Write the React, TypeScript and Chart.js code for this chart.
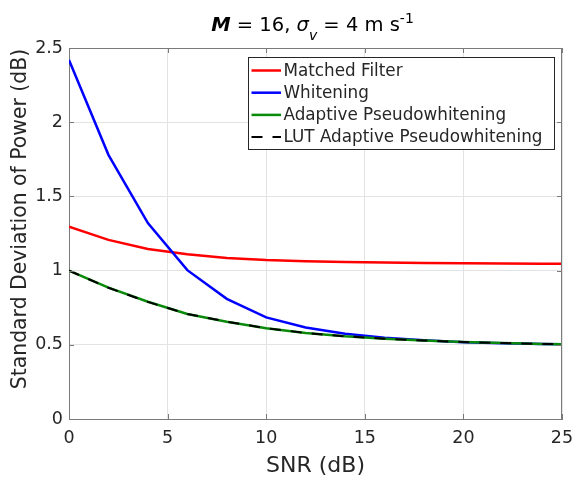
import React, { useEffect, useRef } from "react";
import { Chart, registerables } from "chart.js";

Chart.register(...registerables);

// ---- data ----
const snrDb = [0, 2, 4, 6, 8, 10, 12, 14, 16, 18, 20, 22, 24, 25];
const matchedFilter = [1.296, 1.207, 1.145, 1.11, 1.085, 1.071, 1.063, 1.058, 1.054, 1.051, 1.049, 1.048, 1.047, 1.047];
const whitening = [2.42, 1.78, 1.32, 1.003, 0.81, 0.685, 0.617, 0.575, 0.548, 0.53, 0.518, 0.511, 0.506, 0.504];
const adaptivePW = [1.0, 0.885, 0.79, 0.708, 0.656, 0.612, 0.58, 0.557, 0.541, 0.529, 0.519, 0.512, 0.506, 0.504];
const lutAdaptivePW = [1.0, 0.884, 0.789, 0.708, 0.656, 0.612, 0.58, 0.557, 0.541, 0.529, 0.519, 0.512, 0.506, 0.504];

const seriesLabels = ["Matched Filter", "Whitening", "Adaptive Pseudowhitening", "LUT Adaptive Pseudowhitening"];
const xTickValues = [0, 5, 10, 15, 20, 25];
const yTickValues = [0, 0.5, 1, 1.5, 2, 2.5];
const xTitle = "SNR (dB)";
const yTitle = "Standard Deviation of Power (dB)";

// ---- style ----
const F = "'DejaVu Sans', sans-serif";
const TEXT = "#262626";
const AXIS = "#7a7a7a";
const GRID = "#e3e3e3";
const colors = ["#ff0000", "#0000ff", "#0a8a0a", "#000000"];
const widths = [2.5, 2.5, 2.5, 2];
const dashes: number[][] = [[], [], [], [11, 10]];

const toPts = (ys: number[]) => snrDb.map((x, i) => ({ x, y: ys[i] }));

const framePlugin = {
  id: "frameTicks",
  afterDatasetsDraw(chart: any) {
    const { ctx, chartArea: a, scales } = chart;
    ctx.save();
    ctx.strokeStyle = AXIS;
    ctx.lineWidth = 1;
    ctx.beginPath();
    ctx.moveTo(a.left, a.top + 0.5);
    ctx.lineTo(a.right, a.top + 0.5);
    ctx.moveTo(a.right - 0.5, a.top);
    ctx.lineTo(a.right - 0.5, a.bottom);
    xTickValues.forEach((v) => {
      const x = Math.round(scales.x.getPixelForValue(v)) + 0.5;
      ctx.moveTo(x, a.bottom);
      ctx.lineTo(x, a.bottom - 5);
      ctx.moveTo(x, a.top);
      ctx.lineTo(x, a.top + 5);
    });
    yTickValues.forEach((v) => {
      const y = Math.round(scales.y.getPixelForValue(v)) + 0.5;
      ctx.moveTo(a.left, y);
      ctx.lineTo(a.left + 5, y);
      ctx.moveTo(a.right, y);
      ctx.lineTo(a.right - 5, y);
    });
    ctx.stroke();
    ctx.restore();
  },
};

const legendPlugin = {
  id: "boxLegend",
  afterDatasetsDraw(chart: any) {
    const { ctx, chartArea: a } = chart;
    const bw = 306;
    const bh = 92;
    const bx = a.right - 8 - bw;
    const by = a.top + 9;
    ctx.save();
    ctx.fillStyle = "#ffffff";
    ctx.fillRect(bx, by, bw, bh);
    ctx.strokeStyle = "#262626";
    ctx.lineWidth = 1;
    ctx.strokeRect(Math.round(bx) + 0.5, Math.round(by) + 0.5, bw, bh);
    ctx.font = `16.8px ${F}`;
    ctx.textBaseline = "middle";
    ctx.fillStyle = TEXT;
    seriesLabels.forEach((lab, i) => {
      const y = by + 13.5 + i * 22.2;
      ctx.save();
      ctx.strokeStyle = colors[i];
      ctx.lineWidth = widths[i];
      ctx.setLineDash(dashes[i]);
      ctx.beginPath();
      ctx.moveTo(bx + 3.5, y);
      ctx.lineTo(bx + 33, y);
      ctx.stroke();
      ctx.restore();
      ctx.fillText(lab, bx + 35.5, y + 1);
    });
    ctx.restore();
  },
};

const titlePlugin = {
  id: "mixedTitles",
  afterDraw(chart: any) {
    const { ctx, chartArea: a } = chart;
    ctx.save();
    ctx.fillStyle = "#000000";
    ctx.textBaseline = "alphabetic";
    const segs = [
      { t: "M", font: `italic bold 19.5px ${F}`, dy: 0 },
      { t: " = 16, ", font: `19.5px ${F}`, dy: 0 },
      { t: "σ", font: `italic 19.5px ${F}`, dy: 0 },
      { t: "v", font: `italic 14px ${F}`, dy: 9 },
      { t: " = 4 m s", font: `19.5px ${F}`, dy: 0 },
      { t: "-1", font: `14px ${F}`, dy: -8.5 },
    ];
    let total = 0;
    const ws = segs.map((s) => {
      ctx.font = s.font;
      const w = ctx.measureText(s.t).width;
      total += w;
      return w;
    });
    let x = (a.left + a.right) / 2 - 3 - total / 2;
    const base = 31;
    segs.forEach((s, i) => {
      ctx.font = s.font;
      ctx.fillText(s.t, x, base + s.dy);
      x += ws[i];
    });
    // y-axis title
    ctx.fillStyle = TEXT;
    ctx.font = `20.4px ${F}`;
    ctx.textAlign = "center";
    ctx.textBaseline = "middle";
    ctx.translate(20.5, 219);
    ctx.rotate(-Math.PI / 2);
    ctx.fillText(yTitle, 0, 0);
    ctx.restore();
  },
};

export default function App() {
  const ref = useRef<HTMLCanvasElement | null>(null);
  useEffect(() => {
    document.body.style.margin = "0";
    const canvas = ref.current;
    if (!canvas) return;
    const ds = [matchedFilter, whitening, adaptivePW, lutAdaptivePW].map((ys, i) => ({
      label: seriesLabels[i],
      data: toPts(ys),
      borderColor: colors[i],
      backgroundColor: colors[i],
      borderWidth: widths[i],
      borderDash: dashes[i],
      pointRadius: 0,
      tension: 0,
      fill: false,
      order: 3 - i,
    }));
    const chart = new Chart(canvas, {
      type: "line",
      data: { datasets: ds },
      options: {
        animation: false,
        responsive: false,
        devicePixelRatio: 1,
        layout: { padding: { top: 48, right: 11, left: 0, bottom: 0 } },
        plugins: { legend: { display: false }, tooltip: { enabled: false }, title: { display: false } },
        scales: {
          x: {
            type: "linear",
            min: 0,
            max: 25,
            afterBuildTicks: (s: any) => {
              s.ticks = xTickValues.map((v) => ({ value: v }));
            },
            afterFit: (s: any) => {
              s.height = 60;
              s.paddingLeft = 0;
              s.paddingRight = 0;
            },
            grid: { color: GRID, drawTicks: false, lineWidth: 1 },
            border: { display: true, color: AXIS, width: 1 },
            ticks: { color: TEXT, font: { family: F, size: 17.5 }, padding: 9, maxRotation: 0, callback: (v: any) => String(v) },
            title: { display: true, text: xTitle, color: TEXT, font: { family: F, size: 22 }, padding: { top: 0, bottom: 0 } },
          },
          y: {
            type: "linear",
            min: 0,
            max: 2.5,
            afterBuildTicks: (s: any) => {
              s.ticks = yTickValues.map((v) => ({ value: v }));
            },
            afterFit: (s: any) => {
              s.width = 69;
              s.paddingTop = 0;
              s.paddingBottom = 0;
            },
            grid: { color: GRID, drawTicks: false, lineWidth: 1 },
            border: { display: true, color: AXIS, width: 1 },
            ticks: { color: TEXT, font: { family: F, size: 17.5 }, padding: 6, callback: (v: any) => String(v) },
          },
        },
      },
      plugins: [framePlugin, legendPlugin, titlePlugin],
    });
    return () => chart.destroy();
  }, []);
  return (
    <div style={{ width: 573, height: 479 }}>
      <canvas ref={ref} width={573} height={479} style={{ display: "block" }} />
    </div>
  );
}
